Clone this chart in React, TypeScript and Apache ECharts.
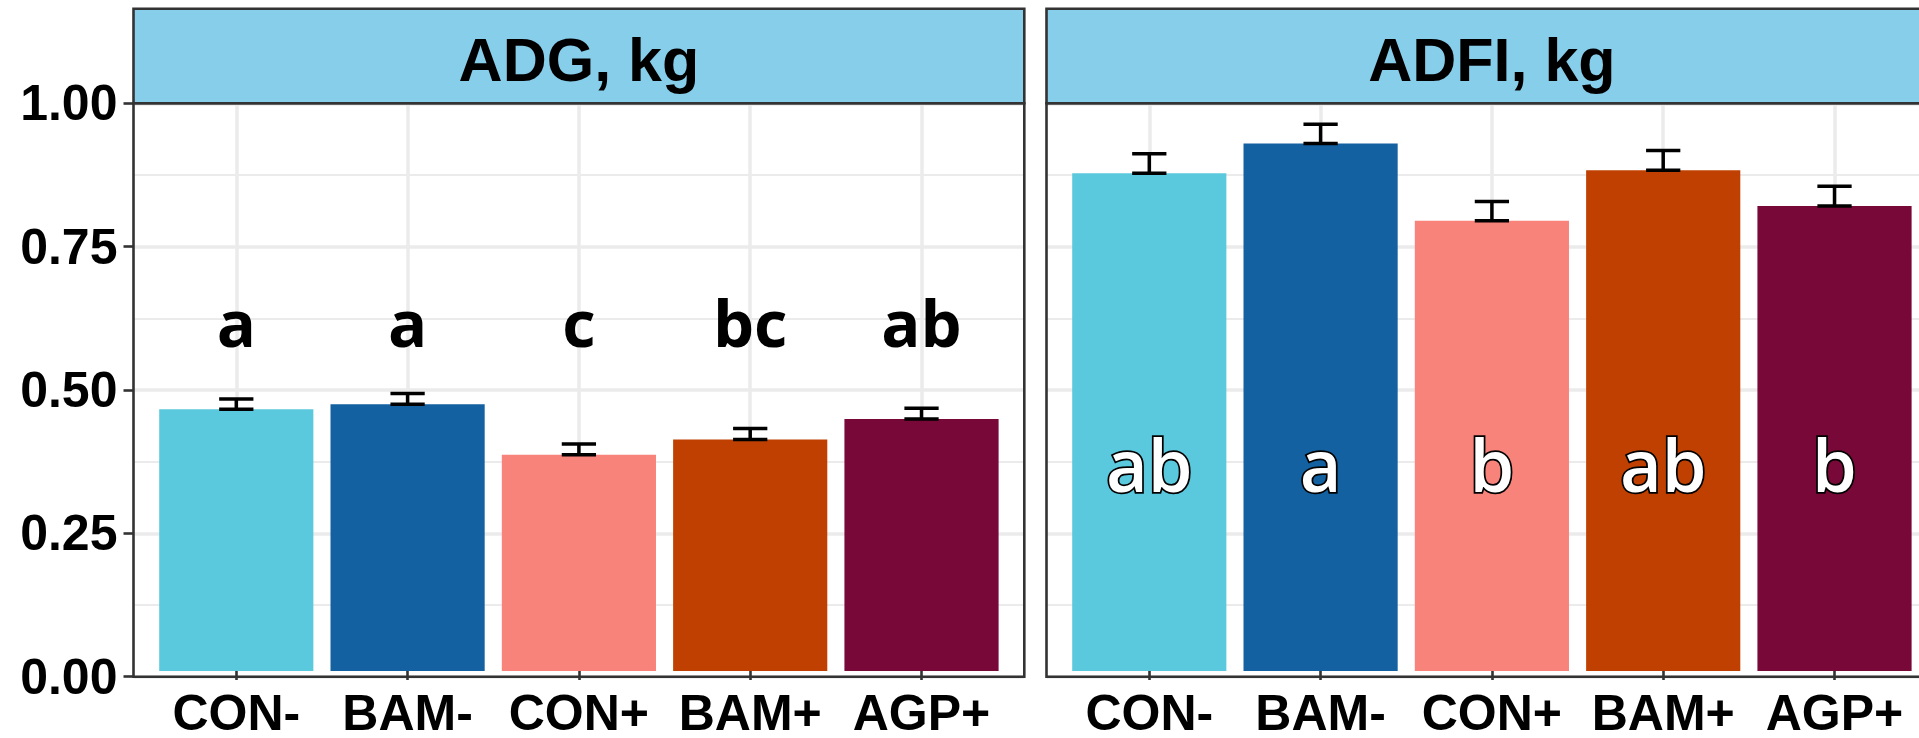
import { useEffect, useRef } from "react";
import * as echarts from "echarts";

// Treatments on the x axis
const categories = ["CON-", "BAM-", "CON+", "BAM+", "AGP+"];
const treatmentColors = ["#5BC9DD", "#1361A0", "#F8837B", "#BF4000", "#780838"];

// Average daily gain (kg): means, standard errors, significance letters
const adgMean = [0.461, 0.47, 0.381, 0.408, 0.444];
const adgSe = [0.018, 0.019, 0.019, 0.019, 0.019];
const adgLetters = ["a", "a", "c", "bc", "ab"];

// Average daily feed intake (kg)
const adfiMean = [0.877, 0.929, 0.793, 0.882, 0.819];
const adfiSe = [0.034, 0.034, 0.034, 0.035, 0.035];
const adfiLetters = ["ab", "a", "b", "ab", "b"];

const panelTitles = ["ADG, kg", "ADFI, kg"];
const yTicks = [0, 0.25, 0.5, 0.75, 1];

// Layout (pixels)
const STRIP_TOP = 8.7;
const PANEL_TOP = 103.3;
const PANEL_BOTTOM = 676.7;
const PANEL_H = PANEL_BOTTOM - PANEL_TOP;
const PANEL_W = 890.8;
const PANEL_LEFTS = [133.5, 1046.5];
const BAND = PANEL_W / 5.2; // discrete scale expanded by 0.6 on each side
const FRAME = "#333333";
const GRID_LINE = "#EBEBEB";
const AXIS_FONT = '"Liberation Sans", Arial, sans-serif';
const LETTER_FONT = '"Open Sans", "Noto Sans", sans-serif';

const panels = [
  {
    title: panelTitles[0],
    mean: adgMean,
    se: adgSe,
    letters: adgLetters,
    letterY: 0.615,
    letterStyle: { fill: "#000", font: `bold 65px ${LETTER_FONT}` },
  },
  {
    title: panelTitles[1],
    mean: adfiMean,
    se: adfiSe,
    letters: adfiLetters,
    letterY: 0.365,
    letterStyle: {
      fill: "#fff",
      stroke: "#000",
      lineWidth: 3.5,
      font: `600 72px ${LETTER_FONT}`,
    },
  },
];

function buildOption() {
  const grid: any[] = [];
  const xAxis: any[] = [];
  const yAxis: any[] = [];
  const series: any[] = [];
  const elements: any[] = [];
  const yMin = yTicks[0];
  const yMax = yTicks[yTicks.length - 1];
  const yStep = yTicks[1] - yTicks[0];

  panels.forEach((p, k) => {
    const left = PANEL_LEFTS[k];
    const frameIdx = k * 2;
    const barIdx = k * 2 + 1;

    // frame grid: full panel, carries y axis + horizontal grid lines
    grid.push({ left, top: PANEL_TOP, width: PANEL_W, height: PANEL_H });
    // bar grid: spans first to last category centre
    grid.push({
      left: left + 0.6 * BAND,
      top: PANEL_TOP,
      width: 4 * BAND,
      height: PANEL_H,
    });

    xAxis.push({ type: "value", gridIndex: frameIdx, min: 0, max: 1, show: false });
    xAxis.push({
      type: "category",
      gridIndex: barIdx,
      data: categories,
      boundaryGap: false,
      axisLine: { show: false },
      axisTick: { show: true, length: 9, lineStyle: { color: FRAME, width: 2.6 } },
      axisLabel: {
        interval: 0,
        margin: 24,
        lineHeight: 36,
        fontSize: 50,
        fontWeight: "bold",
        fontFamily: AXIS_FONT,
        color: "#000",
      },
      splitLine: { show: true, lineStyle: { color: GRID_LINE, width: 3.5 } },
    });

    yAxis.push({
      type: "value",
      gridIndex: frameIdx,
      min: yMin,
      max: yMax,
      interval: yStep,
      axisLine: { show: false },
      axisTick: {
        show: k === 0,
        length: 10,
        lineStyle: { color: FRAME, width: 2.6 },
      },
      axisLabel: {
        show: k === 0,
        margin: 16,
        fontSize: 50,
        fontWeight: "bold",
        fontFamily: AXIS_FONT,
        color: "#000",
        formatter: (v: number) => v.toFixed(2),
      },
      splitLine: { show: true, lineStyle: { color: GRID_LINE, width: 3.5 } },
      minorTick: { show: false, splitNumber: 2 },
      minorSplitLine: { show: true, lineStyle: { color: GRID_LINE, width: 2 } },
    });
    yAxis.push({ type: "value", gridIndex: barIdx, min: yMin, max: yMax, show: false });

    series.push({
      type: "bar",
      xAxisIndex: barIdx,
      yAxisIndex: barIdx,
      barWidth: 0.9 * BAND,
      clip: false,
      z: 2,
      data: p.mean.map((v, i) => ({ value: v, itemStyle: { color: treatmentColors[i] } })),
    });

    // error bars: mean to mean + SE, caps 0.2 of a category wide
    series.push({
      type: "custom",
      xAxisIndex: barIdx,
      yAxisIndex: barIdx,
      clip: false,
      z: 3,
      encode: { x: 0, y: 1 },
      data: p.mean.map((m, i) => [i, m, p.se[i]]),
      renderItem: (_params: any, api: any) => {
        const i = api.value(0);
        const m = api.value(1);
        const s = api.value(2);
        const base = api.coord([i, m]);
        const top = api.coord([i, m + s]);
        const half = api.size([1, 0])[0] * 0.1;
        const st = { stroke: "#000", lineWidth: 3.5 };
        return {
          type: "group",
          children: [
            { type: "line", shape: { x1: base[0], y1: base[1], x2: top[0], y2: top[1] }, style: st },
            { type: "line", shape: { x1: base[0] - half, y1: base[1], x2: base[0] + half, y2: base[1] }, style: st },
            { type: "line", shape: { x1: top[0] - half, y1: top[1], x2: top[0] + half, y2: top[1] }, style: st },
          ],
        };
      },
    });

    // significance letters
    series.push({
      type: "custom",
      xAxisIndex: barIdx,
      yAxisIndex: barIdx,
      clip: false,
      z: 4,
      encode: { x: 0, y: 1 },
      data: p.mean.map((m, i) => [i, m]),
      renderItem: (params: any, api: any) => {
        const pt = api.coord([api.value(0), p.letterY]);
        return {
          type: "text",
          x: pt[0],
          y: pt[1],
          style: {
            text: p.letters[params.dataIndex],
            align: "center",
            verticalAlign: "middle",
            ...p.letterStyle,
          },
        };
      },
    });

    // facet strip
    elements.push({
      type: "rect",
      z: 50,
      silent: true,
      shape: { x: left, y: STRIP_TOP, width: PANEL_W, height: PANEL_TOP - STRIP_TOP },
      style: { fill: "#87CEEB", stroke: FRAME, lineWidth: 2.6 },
    });
    elements.push({
      type: "text",
      z: 51,
      silent: true,
      x: left + PANEL_W / 2,
      y: 59.6,
      style: {
        text: p.title,
        fill: "#000",
        font: `bold 61px ${AXIS_FONT}`,
        align: "center",
        verticalAlign: "middle",
        textAlign: "center",
        textVerticalAlign: "middle",
      },
    });
    // panel border, drawn over the bars
    elements.push({
      type: "rect",
      z: 60,
      silent: true,
      shape: { x: left, y: PANEL_TOP, width: PANEL_W, height: PANEL_H },
      style: { fill: "none", stroke: FRAME, lineWidth: 2.6 },
    });
  });

  return {
    animation: false,
    backgroundColor: "#fff",
    grid,
    xAxis,
    yAxis,
    series,
    graphic: { elements },
  };
}

export default function App() {
  const ref = useRef<HTMLDivElement>(null);
  useEffect(() => {
    const chart = echarts.init(ref.current!, null, { renderer: "svg" });
    chart.setOption(buildOption() as any);
    return () => chart.dispose();
  }, []);
  return (
    <div
      style={{
        position: "fixed",
        left: 0,
        top: 0,
        width: 1919,
        height: 738,
        overflow: "hidden",
        background: "#fff",
      }}
    >
      <div ref={ref} style={{ width: 1960, height: 738 }} />
    </div>
  );
}
